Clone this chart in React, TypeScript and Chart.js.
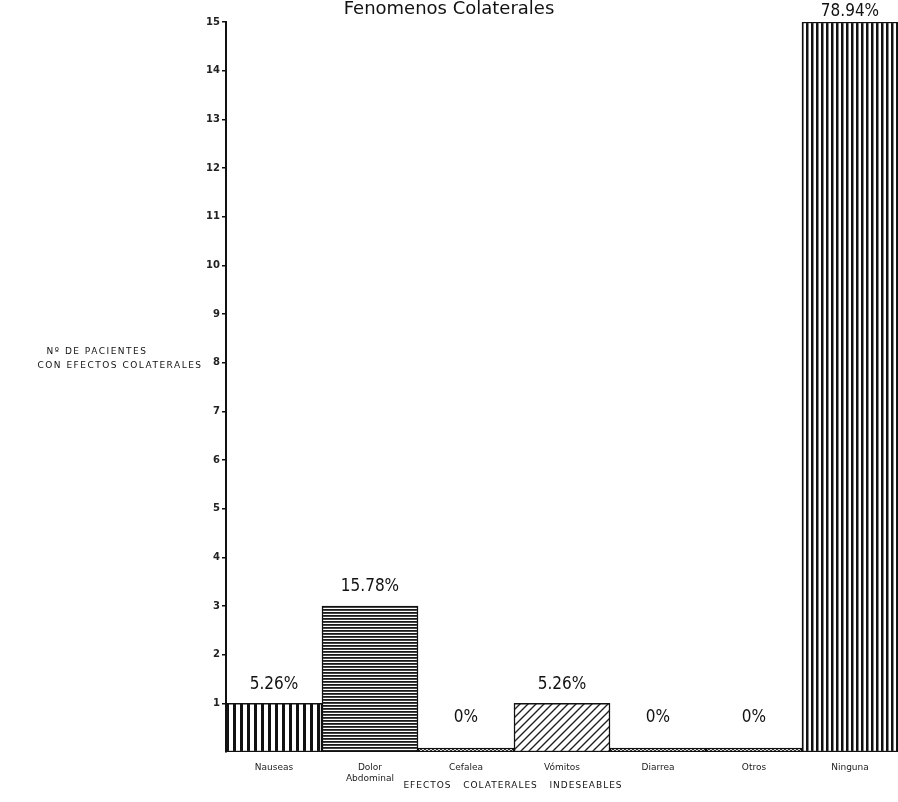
import React, { useEffect, useRef } from "react";
import { Chart, registerables } from "chart.js";

Chart.register(...registerables);

const categories: (string | string[])[] = [
  "Nauseas",
  ["Dolor", "Abdominal"],
  "Cefalea",
  "Vómitos",
  "Diarrea",
  "Otros",
  "Ninguna",
];
const patients = [1, 3, 0, 1, 0, 0, 15];
const percentLabels = ["5.26%", "15.78%", "0%", "5.26%", "0%", "0%", "78.94%"];
const yTicks = [1, 2, 3, 4, 5, 6, 7, 8, 9, 10, 11, 12, 13, 14, 15];
const patternKinds = ["vertical", "horizontal", "flat", "diagonal", "flat", "flat", "verticalDense"];

const titleText = "Fenomenos Colaterales";
const yTitleLines = ["Nº DE PACIENTES", "CON EFECTOS COLATERALES"];
const xTitleText = "EFECTOS   COLATERALES   INDESEABLES";

function makePattern(kind: string): CanvasPattern | string {
  const c = document.createElement("canvas");
  const ctx = c.getContext("2d")!;
  if (kind === "vertical") {
    c.width = 7; c.height = 8;
    ctx.fillStyle = "#fff"; ctx.fillRect(0, 0, 7, 8);
    ctx.fillStyle = "#111"; ctx.fillRect(2, 0, 3, 8);
  } else if (kind === "verticalDense") {
    c.width = 5; c.height = 8;
    ctx.fillStyle = "#fff"; ctx.fillRect(0, 0, 5, 8);
    ctx.fillStyle = "#111"; ctx.fillRect(1, 0, 2.5, 8);
  } else if (kind === "horizontal") {
    c.width = 8; c.height = 3;
    ctx.fillStyle = "#fff"; ctx.fillRect(0, 0, 8, 3);
    ctx.fillStyle = "#1a1a1a"; ctx.fillRect(0, 0, 8, 1.8);
  } else if (kind === "diagonal") {
    c.width = 8; c.height = 8;
    ctx.fillStyle = "#fff"; ctx.fillRect(0, 0, 8, 8);
    ctx.strokeStyle = "#222"; ctx.lineWidth = 1.4;
    ctx.beginPath();
    ctx.moveTo(0, 8); ctx.lineTo(8, 0);
    ctx.moveTo(-2, 2); ctx.lineTo(2, -2);
    ctx.moveTo(6, 10); ctx.lineTo(10, 6);
    ctx.stroke();
  } else {
    c.width = 4; c.height = 4;
    ctx.fillStyle = "#fff"; ctx.fillRect(0, 0, 4, 4);
    ctx.fillStyle = "#222"; ctx.fillRect(0, 0, 2, 2); ctx.fillRect(2, 2, 2, 2);
  }
  return ctx.createPattern(c, "repeat") || "#888";
}

const textPlugin = {
  id: "textPlugin",
  afterDatasetsDraw(chart: any) {
    const ctx = chart.ctx as CanvasRenderingContext2D;
    const meta = chart.getDatasetMeta(0);
    const yScale = chart.scales.y;
    const base = yScale.getPixelForValue(0);
    ctx.save();
    ctx.fillStyle = "#111";
    ctx.textAlign = "center";
    ctx.textBaseline = "middle";
    ctx.font = "17px 'Liberation Sans Narrow', 'DejaVu Sans Condensed', sans-serif";
    meta.data.forEach((bar: any, i: number) => {
      const v = patients[i];
      let y = v === 0 ? base - 34 : bar.y - 19;
      if (y < 12) y = 12;
      ctx.fillText(percentLabels[i], bar.x, y);
    });
    // title
    ctx.font = "18px 'DejaVu Sans', sans-serif";
    ctx.fillText(titleText, 449, 9);
    // y title (horizontal)
    ctx.font = "9px 'DejaVu Sans', sans-serif";
    (ctx as any).letterSpacing = "1.5px";
    ctx.fillText(yTitleLines[0], 97, 352);
    ctx.fillText(yTitleLines[1], 120, 366);
    // x title
    (ctx as any).letterSpacing = "1px";
    ctx.fillText(xTitleText, 513, 786);
    ctx.restore();
  },
};

export default function App() {
  const ref = useRef<HTMLCanvasElement>(null);
  useEffect(() => {
    document.body.style.margin = "0";
    document.body.style.overflow = "hidden";
    const bg = patternKinds.map((k) => makePattern(k));
    const chart = new Chart(ref.current!, {
      type: "bar",
      data: {
        labels: categories,
        datasets: [
          {
            data: patients,
            backgroundColor: bg as any,
            borderColor: "#111",
            borderWidth: 1.5,
            borderSkipped: false,
            barPercentage: 1,
            categoryPercentage: 1,
            minBarLength: 4,
          },
        ],
      },
      options: {
        animation: false,
        responsive: false,
        maintainAspectRatio: false,
        layout: { padding: { top: 22, right: 0, left: 0, bottom: 0 } },
        plugins: {
          legend: { display: false },
          tooltip: { enabled: false },
          title: { display: false },
        },
        scales: {
          x: {
            grid: { display: false },
            border: { display: false },
            ticks: {
              color: "#222",
              font: { size: 9, family: "'DejaVu Sans', sans-serif" },
              maxRotation: 0,
              autoSkip: false,
              padding: 2,
            },
            afterFit(scale: any) {
              scale.height = 50;
            },
          },
          y: {
            min: 0,
            max: 15,
            afterBuildTicks(scale: any) {
              scale.ticks = yTicks.map((v) => ({ value: v }));
            },
            grid: {
              display: true,
              drawOnChartArea: false,
              drawTicks: true,
              tickLength: 4,
              color: "#111",
              lineWidth: 1.5,
            },
            border: { display: true, color: "#111", width: 2 },
            ticks: {
              color: "#222",
              font: { size: 10, family: "'DejaVu Sans', sans-serif", weight: "bold" },
              padding: 2,
            },
            afterFit(scale: any) {
              scale.width = 226;
            },
          },
        },
      },
      plugins: [textPlugin],
    });
    return () => chart.destroy();
  }, []);
  return (
    <div style={{ position: "absolute", left: 0, top: 0, width: 898, height: 802, background: "#fff" }}>
      <canvas ref={ref} width={898} height={802} style={{ display: "block" }} />
    </div>
  );
}
